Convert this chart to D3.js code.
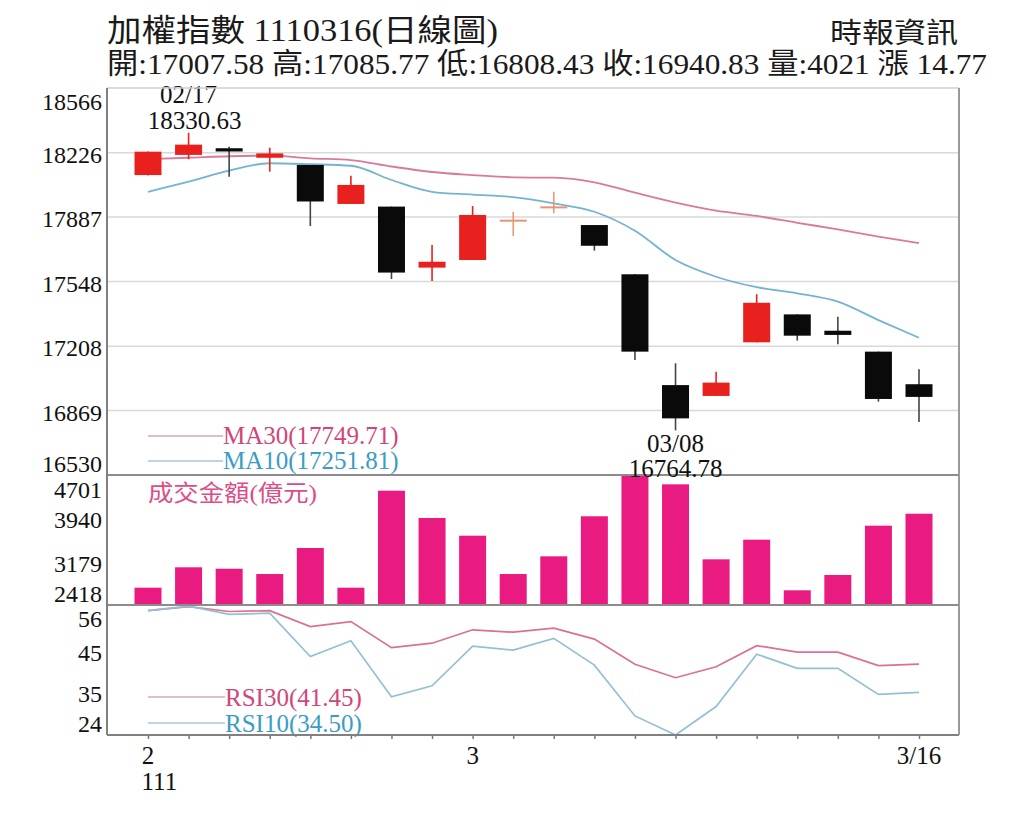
<!DOCTYPE html>
<html><head><meta charset="utf-8">
<script src="https://cdn.jsdelivr.net/npm/d3@7"></script>
<style>
body{margin:0;background:#fff}
svg{display:block}
text{font-family:"Liberation Serif","Times New Roman","Noto Sans CJK TC",serif}
</style>
</head><body>
<svg id="c" width="1024" height="820"></svg>
<script>
// ---------- data ----------
const dates  = ["02/16","02/17","02/18","02/21","02/22","02/23","02/24","02/25","03/01","03/02",
                "03/03","03/04","03/07","03/08","03/09","03/10","03/11","03/14","03/15","03/16"];
const openV  = [18108,18214,18249,18199,18161,17956,17942,17621,17661,17868,
                17938,17845,17586,17003,16946,17228,17375,17289,17179,17007.58];
const highV  = [18232,18330.63,18257,18252,18161,18105,17942,17740,17945,17915,
                18020,17845,17586,17118,17073,17481,17375,17363,17179,17085.77];
const lowV   = [18106,18191,18099,18126,17840,17956,17561,17551,17661,17787,
                17907,17710,17135,16764.78,16946,17228,17237,17218,16916,16808.43];
const closeV = [18231,18268,18232,18222,17969,18056,17595,17652,17898,17868,
                17938,17736,17179,16828,17016,17436,17263,17267,16930,16940.83];
const ma30   = [18192,18199,18207,18210,18196,18187,18153,18124,18108,18096,
                18094,18070,18015,17963,17921,17893,17857,17822,17784,17749.71];
const ma10   = [18020,18073,18131,18170,18165,18157,18082,18020,18005,17992,
                17959,17915,17815,17661,17573,17518,17486,17442,17345,17251.81];
const volume = [2722,3080,3055,2962,3419,2722,4425,3946,3635,2962,
                3273,3976,4701,4537,3220,3565,2676,2945,3811,4021];
const rsi30  = [54.6,55.6,54.4,54.6,50.7,51.9,45.5,46.6,49.9,49.3,
                50.3,47.6,41.4,38.1,40.8,46.0,44.4,44.4,41.1,41.45];
const rsi10  = [54.6,55.7,53.7,54.0,43.3,47.2,33.4,36.1,45.9,44.9,
                47.8,41.2,28.7,24.0,31.0,43.9,40.4,40.4,34.0,34.50];

const mainTickLabels = ["16530","16869","17208","17548","17887","18226","18566"];
const volTickLabels  = ["2418","3179","3940","4701"];
const rsiTickLabels  = ["24","35","45","56"];
const xLabelIdx  = [0, 8, 19];
const xLabelText = ["2","3","3/16"];
const yearLabel  = "111";

const titleText  = "加權指數 1110316(日線圖)";
const sourceText = "時報資訊";
const infoText   = "開:17007.58 高:17085.77 低:16808.43 收:16940.83 量:4021 漲 14.77";
const volTitle   = "成交金額(億元)";

// ---------- layout ----------
const L = 107, R = 959;
const P1 = [88, 475], P2 = [475, 605], P3 = [605, 735];

const svg = d3.select("#c");
const x = d3.scalePoint().domain(d3.range(dates.length)).range([148, 919]);
const yM = d3.scaleLinear().domain([+mainTickLabels[0], +mainTickLabels[6]]).range([P1[1], P1[0]]);
const yV = d3.scaleLinear().domain([+volTickLabels[0], +volTickLabels[3]]).range([P2[1], P2[0]]);
const yR = d3.scaleLinear().domain([+rsiTickLabels[0], +rsiTickLabels[3]]).range([P3[1], P3[0]]);
const bw = 27;

const colRed = "#e8211e", colBlack = "#0a0a0a", colDoji = "#e9946f";
const colMA30 = "#d97a9d", colMA10 = "#74b3d2";
const colRSI30 = "#dc6f93", colRSI10 = "#93c1d3";
const colVol = "#ea1b80";

// ---------- titles ----------
svg.append("text").attr("x", L).attr("y", 41).attr("font-size", 31).attr("fill", "#1a1a1a")
  .attr("textLength", 391).attr("lengthAdjust", "spacingAndGlyphs").text(titleText);
svg.append("text").attr("x", 830).attr("y", 43).attr("font-size", 28).attr("fill", "#1a1a1a")
  .attr("textLength", 128).attr("lengthAdjust", "spacingAndGlyphs").text(sourceText);
svg.append("text").attr("x", L).attr("y", 74).attr("font-size", 29).attr("fill", "#1a1a1a")
  .attr("textLength", 880).attr("lengthAdjust", "spacingAndGlyphs").text(infoText);

// ---------- grid ----------
svg.append("g").selectAll("line").data(mainTickLabels.slice(1, 6)).join("line")
  .attr("x1", L).attr("x2", R).attr("y1", d => yM(+d)).attr("y2", d => yM(+d))
  .attr("stroke", "#d9d9d9").attr("stroke-width", 1.5);

// ---------- axes ----------
function yAxis(scale, labels, firstDy, lastDy, midDy) {
  const g = svg.append("g").attr("transform", `translate(${L},0)`)
    .call(d3.axisLeft(scale).tickValues(labels.map(Number)).tickFormat((d, i) => labels[i]).tickSize(0).tickPadding(5));
  g.select(".domain").remove();
  g.selectAll("text").attr("font-size", 24).attr("fill", "#111")
    .attr("font-family", '"Liberation Serif",serif')
    .attr("dy", (d, i) => i === 0 ? firstDy : (i === labels.length - 1 ? lastDy : midDy));
}
yAxis(yM, mainTickLabels, "-0.15em", "0.9em", "0.4em");
yAxis(yV, volTickLabels, "-0.15em", "0.95em", "0.4em");
yAxis(yR, rsiTickLabels, "-0.15em", "0.9em", "0.45em");

const xa = svg.append("g").attr("transform", `translate(0,${P3[1]})`)
  .call(d3.axisBottom(x).tickSize(4).tickFormat(""));
xa.select(".domain").remove();
xa.selectAll("line").attr("stroke", "#777").attr("stroke-width", 1.5);

svg.append("g").selectAll("text").data(xLabelIdx).join("text")
  .attr("x", d => x(d)).attr("y", 764).attr("text-anchor", "middle")
  .attr("font-size", 25).attr("fill", "#111").text((d, i) => xLabelText[i]);
svg.append("text").attr("x", x(0) - 6.5).attr("y", 790).attr("font-size", 25).attr("fill", "#111").text(yearLabel);

// ---------- MA lines ----------
const idx = d3.range(dates.length);
const lineM = arr => d3.line().x(i => x(i)).y(i => yM(arr[i])).curve(d3.curveMonotoneX)(idx);
svg.append("path").attr("d", lineM(ma30)).attr("fill", "none").attr("stroke", colMA30).attr("stroke-width", 1.8);
svg.append("path").attr("d", lineM(ma10)).attr("fill", "none").attr("stroke", colMA10).attr("stroke-width", 1.8);

// ---------- candles ----------
const colOf = i => closeV[i] > openV[i] ? colRed : (closeV[i] < openV[i] ? colBlack : colDoji);
const cg = svg.append("g");
cg.selectAll("line.w").data(idx).join("line").attr("class", "w")
  .attr("x1", i => x(i)).attr("x2", i => x(i))
  .attr("y1", i => yM(highV[i])).attr("y2", i => yM(lowV[i]))
  .attr("stroke", i => closeV[i] < openV[i] ? "#444" : colOf(i))
  .attr("stroke-width", i => closeV[i] === openV[i] ? 1.5 : 1.6);
cg.selectAll("rect").data(idx).join("rect")
  .attr("x", i => x(i) - bw / 2).attr("width", bw)
  .attr("y", i => closeV[i] === openV[i] ? yM(closeV[i]) - 1 : yM(Math.max(openV[i], closeV[i])))
  .attr("height", i => closeV[i] === openV[i] ? 2 : Math.max(3, yM(Math.min(openV[i], closeV[i])) - yM(Math.max(openV[i], closeV[i]))))
  .attr("fill", i => colOf(i));

// high annotation
const hiI = d3.maxIndex(highV), loI = d3.minIndex(lowV);
svg.append("text").attr("x", x(hiI)).attr("y", 103).attr("text-anchor", "middle").attr("font-size", 25).attr("fill", "#111").text(dates[hiI]);
svg.append("text").attr("x", x(hiI) + 6).attr("y", 129).attr("text-anchor", "middle").attr("font-size", 25).attr("fill", "#111").text(highV[hiI].toFixed(2));

// MA legend
svg.append("line").attr("x1", 148).attr("x2", 223).attr("y1", 436).attr("y2", 436).attr("stroke", "#dba6b9").attr("stroke-width", 1.5);
svg.append("text").attr("x", 223).attr("y", 444).attr("font-size", 25).attr("fill", "#d2457a").text(`MA30(${ma30[ma30.length - 1].toFixed(2)})`);
svg.append("line").attr("x1", 148).attr("x2", 223).attr("y1", 461).attr("y2", 461).attr("stroke", "#a3c9d8").attr("stroke-width", 1.5);
svg.append("text").attr("x", 223).attr("y", 469).attr("font-size", 25).attr("fill", "#3b9dc4").text(`MA10(${ma10[ma10.length - 1].toFixed(2)})`);

// ---------- volume ----------
svg.append("g").selectAll("rect").data(idx).join("rect")
  .attr("x", i => x(i) - bw / 2).attr("width", bw)
  .attr("y", i => yV(volume[i])).attr("height", i => P2[1] - yV(volume[i]))
  .attr("fill", colVol);
svg.append("text").attr("x", 148).attr("y", 501).attr("font-size", 23).attr("fill", "#dd4d86")
  .attr("textLength", 169).attr("lengthAdjust", "spacingAndGlyphs").text(volTitle);

// ---------- RSI ----------
const lineR = arr => d3.line().x(i => x(i)).y(i => yR(arr[i]))(idx);
svg.append("path").attr("d", lineR(rsi30)).attr("fill", "none").attr("stroke", colRSI30).attr("stroke-width", 1.7);
svg.append("path").attr("d", lineR(rsi10)).attr("fill", "none").attr("stroke", colRSI10).attr("stroke-width", 1.7);

svg.append("line").attr("x1", 148).attr("x2", 225).attr("y1", 697).attr("y2", 697).attr("stroke", "#dba6b9").attr("stroke-width", 1.5);
svg.append("text").attr("x", 225).attr("y", 706).attr("font-size", 25).attr("fill", "#d2457a").text(`RSI30(${rsi30[rsi30.length - 1].toFixed(2)})`);
svg.append("line").attr("x1", 148).attr("x2", 225).attr("y1", 723).attr("y2", 723).attr("stroke", "#a3c9d8").attr("stroke-width", 1.5);
svg.append("text").attr("x", 225).attr("y", 732).attr("font-size", 25).attr("fill", "#3b9dc4").text(`RSI10(${rsi10[rsi10.length - 1].toFixed(2)})`);

// ---------- frames ----------
const fg = svg.append("g");
fg.append("line").attr("x1", L).attr("x2", R).attr("y1", P1[0]).attr("y2", P1[0]).attr("stroke", "#cfcfcf").attr("stroke-width", 1.5);
[P2[0], P3[0]].forEach(yy => fg.append("line").attr("x1", L).attr("x2", R).attr("y1", yy).attr("y2", yy).attr("stroke", "#8c8c8c").attr("stroke-width", 2));
fg.append("line").attr("x1", L).attr("x2", R).attr("y1", P3[1]).attr("y2", P3[1]).attr("stroke", "#808080").attr("stroke-width", 2);
fg.append("line").attr("x1", L).attr("x2", L).attr("y1", P1[0]).attr("y2", P3[1]).attr("stroke", "#808080").attr("stroke-width", 2);
fg.append("line").attr("x1", R).attr("x2", R).attr("y1", P1[0]).attr("y2", P3[1]).attr("stroke", "#9a9a9a").attr("stroke-width", 2);

// low annotation (drawn over the panel separator)
svg.append("text").attr("x", x(loI)).attr("y", 452).attr("text-anchor", "middle").attr("font-size", 25).attr("fill", "#111").text(dates[loI]);
svg.append("text").attr("x", x(loI)).attr("y", 477).attr("text-anchor", "middle").attr("font-size", 25).attr("fill", "#111").text(lowV[loI].toFixed(2));
</script>
</body></html>
